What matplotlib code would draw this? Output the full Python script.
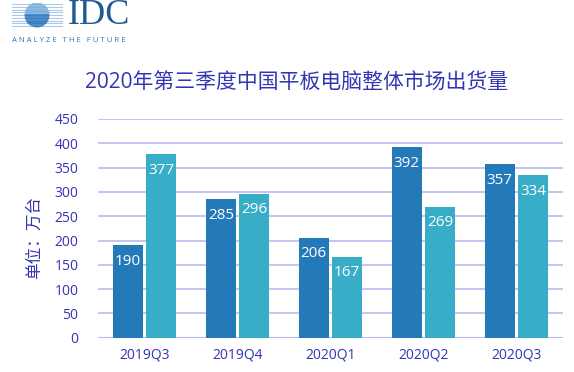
import numpy as np
import matplotlib.pyplot as plt
from matplotlib.patches import Circle

plt.rcParams['font.family'] = ['Open Sans', 'Noto Sans CJK SC', 'DejaVu Sans']

# data
quarters = ["2019Q3", "2019Q4", "2020Q1", "2020Q2", "2020Q3"]
series_a = [190, 285, 206, 392, 357]
series_b = [377, 296, 167, 269, 334]
yticks = [0, 50, 100, 150, 200, 250, 300, 350, 400, 450]

c_dark = "#2479b9"
c_light = "#37adc7"
c_text = "#3434b4"
c_grid = "#babaf2"

fig = plt.figure(figsize=(5.74, 3.72), dpi=100)
ax = fig.add_axes([98/574, 1-337.7/372, 465/574, (337.7-119)/372])

x = np.arange(len(quarters))
w = 0.32
off = 0.18
bars_a = ax.bar(x - off, series_a, w, color=c_dark, zorder=3)
bars_b = ax.bar(x + off, series_b, w, color=c_light, zorder=3)

for bars in (bars_a, bars_b):
    for b in bars:
        ax.annotate(str(int(b.get_height())), (b.get_x() + b.get_width()/2, b.get_height()),
                    xytext=(0, -6), textcoords="offset points", ha="center", va="top",
                    color="white", fontsize=11, zorder=4)

ax.set_xlim(-0.5, len(quarters) - 0.5)
ax.set_ylim(0, 450)
ax.set_yticks(yticks)
ax.set_xticks(x)
ax.set_xticklabels(quarters)
ax.tick_params(axis="both", length=0, colors=c_text, labelsize=10)
ax.tick_params(axis="y", pad=14)
ax.tick_params(axis="x", pad=7)
ax.grid(axis="y", color=c_grid, linewidth=1.2, zorder=0)
ax.set_axisbelow(True)
for s in ax.spines.values():
    s.set_visible(False)
ax.axhline(0, color=c_grid, linewidth=1.5, zorder=2)
ax.set_ylabel("单位：万台", color=c_text, fontsize=12, fontweight="medium", labelpad=4)
ax.yaxis.set_label_coords(-55/465, 0.46)

fig.text(0.517, 1-83/372, "2020年第三季度中国平板电脑整体市场出货量", ha="center", va="center",
         color=c_text, fontsize=15)

# IDC logo
lax = fig.add_axes([10/574, 1-29/372, 54/574, 28/372])
lax.set_xlim(0, 54)
lax.set_ylim(0, 28)
lax.axis("off")
circ = Circle((27, 14), 12.5, transform=lax.transData)
for i, yy in enumerate(np.linspace(3, 25, 9)):
    lax.plot([2, 52], [yy, yy], color="#a9c9e6", linewidth=0.8)
    ln, = lax.plot([2, 52], [yy, yy], color="#3a7fc1" if i < 5 else "#7fb2dd", linewidth=2.0)
    ln.set_clip_path(circ)
fig.text(68/574, 1-16/372, "IDC", family="Liberation Serif", fontsize=26, color="#1f5a96",
         ha="left", va="center")
fig.text(12/574, 1-41/372, "A N A L Y Z E   T H E   F U T U R E", fontsize=5.6, color="#2f74b5",
         ha="left", va="center")

fig.savefig("out.png", dpi=100)
